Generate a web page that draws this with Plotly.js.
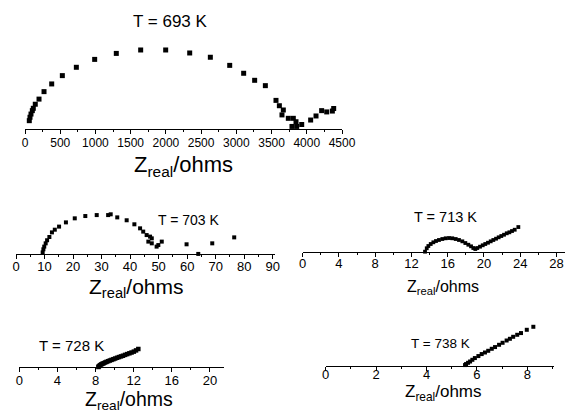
<!DOCTYPE html>
<html>
<head>
<meta charset="utf-8">
<script src="https://cdn.plot.ly/plotly-3.0.1.min.js"></script>
<style>html,body{margin:0;padding:0;background:#fff}#chart{width:565px;height:410px}</style>
</head>
<body>
<div id="chart"></div>
<script>
// ---- Data (Z_real in ohms, -Z_imag in ohms) ----
const titles = ["T = 693 K", "T = 703 K", "T = 713 K", "T = 728 K", "T = 738 K"];
const axisLabel = "Z<sub>real</sub>/ohms";

const zr693 = [61, 71, 85, 104, 118, 146, 199, 270, 379, 530, 729, 989, 1296, 1642, 1997, 2338, 2631, 2906, 3104, 3260, 3412, 3563, 3611, 3667, 3648, 3738, 3809, 3847, 3790, 3857, 3928, 4055, 4131, 4211, 4283, 4363, 4382];
const zi693 = [195, 275, 350, 430, 485, 580, 700, 875, 1055, 1250, 1445, 1630, 1770, 1850, 1850, 1780, 1680, 1490, 1305, 1140, 1015, 670, 545, 445, 330, 250, 250, 170, 60, 60, 105, 210, 305, 430, 400, 420, 480];

const zr703 = [9.35, 9.6, 9.9, 10.4, 10.9, 11.7, 12.6, 13.6, 15.1, 17.5, 20.6, 24.3, 28.3, 32.3, 33.2, 35.5, 38.8, 41.5, 43.5, 44.6, 45.8, 47.0, 47.6, 46.4, 47.6, 49.9, 49.3, 51.1, 59.8, 63.9, 68.8, 76.5];
const zi703 = [1.0, 2.6, 4.0, 5.7, 7.3, 9.0, 11.4, 12.8, 14.4, 16.6, 18.7, 19.9, 20.4, 20.4, 20.8, 19.2, 17.7, 15.6, 13.5, 11.8, 10.0, 9.2, 8.3, 6.6, 5.7, 4.8, 4.0, 6.6, 5.2, 0.2, 5.7, 8.8];

const zr713 = [13.50, 13.69, 13.87, 14.13, 14.42, 14.71, 15.04, 15.41, 15.78, 16.15, 16.51, 16.89, 17.25, 17.62, 17.95, 18.28, 18.58, 18.83, 19.05, 19.27, 19.57, 19.87, 20.15, 20.45, 20.75, 21.04, 21.34, 21.63, 21.92, 22.22, 22.52, 22.81, 23.10, 23.40, 23.80];
const zi713 = [0.12, 0.78, 1.22, 1.61, 1.94, 2.19, 2.39, 2.58, 2.72, 2.77, 2.72, 2.58, 2.39, 2.13, 1.80, 1.47, 1.16, 0.83, 0.64, 0.83, 1.09, 1.36, 1.61, 1.86, 2.13, 2.39, 2.64, 2.91, 3.16, 3.41, 3.69, 3.88, 4.13, 4.38, 4.90];

const zr728 = [8.30, 8.35, 8.42, 8.50, 8.60, 8.72, 8.85, 9.00, 9.15, 9.32, 9.50, 9.68, 9.87, 10.06, 10.26, 10.46, 10.67, 10.88, 11.10, 11.32, 11.55, 11.78, 12.02, 12.25, 12.49];
const zi728 = [0.06, 0.17, 0.30, 0.42, 0.55, 0.67, 0.78, 0.91, 1.03, 1.16, 1.29, 1.41, 1.54, 1.67, 1.81, 1.94, 2.07, 2.20, 2.36, 2.51, 2.66, 2.81, 2.98, 3.21, 3.48];

const zr738 = [5.53, 5.57, 5.65, 5.73, 5.82, 5.92, 6.06, 6.19, 6.32, 6.45, 6.59, 6.72, 6.88, 7.02, 7.18, 7.31, 7.44, 7.60, 7.75, 7.98, 8.24];
const zi738 = [0.03, 0.10, 0.19, 0.28, 0.40, 0.52, 0.66, 0.80, 0.91, 1.03, 1.17, 1.29, 1.45, 1.59, 1.75, 1.87, 2.01, 2.15, 2.27, 2.50, 2.71];

// ---- Layout helpers ----
const W = 565, H = 410;
const FONT = "Liberation Sans, Arial, Helvetica, sans-serif";
const px = v => v / W;
const py = v => 1 - v / H;

function xaxis(x0, x1, range, dtick, mdtick, anchor, fs, standoff) {
  return {
    domain: [px(x0), px(x1)], range: range, anchor: anchor,
    showline: true, linecolor: "#000", linewidth: 1,
    showgrid: false, zeroline: false,
    ticks: "outside", ticklen: 4, tickwidth: 1, tickcolor: "#000",
    tick0: 0, dtick: dtick, ticklabelstandoff: standoff,
    minor: {dtick: mdtick, ticks: "outside", ticklen: 2, tickwidth: 1, tickcolor: "#000", showgrid: false},
    tickfont: {family: FONT, size: fs, color: "#000"},
    fixedrange: true
  };
}
function yaxis(yAxisPx, yTopPx, top, anchor) {
  return {domain: [py(yAxisPx), py(yTopPx)], range: [0, top], anchor: anchor, visible: false, fixedrange: true};
}
function trace(x, y, xa, ya, size) {
  return {x: x, y: y, xaxis: xa, yaxis: ya, type: "scatter", mode: "markers",
    marker: {symbol: "square", size: size, color: "#000", line: {width: 0}},
    cliponaxis: false, hoverinfo: "skip"};
}
function ann(text, x, y, fs) {
  return {text: text, x: px(x), y: py(y), xref: "paper", yref: "paper",
    xanchor: "center", yanchor: "middle", showarrow: false,
    font: {family: FONT, size: fs, color: "#000"}};
}

const data = [
  trace(zr693, zi693, "x", "y", 5),
  trace(zr703, zi703, "x2", "y2", 4),
  trace(zr713, zi713, "x3", "y3", 3.8),
  trace(zr728, zi728, "x4", "y4", 4.5),
  trace(zr738, zi738, "x5", "y5", 4)
];

const layout = {
  width: W, height: H, autosize: false,
  margin: {l: 0, r: 0, t: 0, b: 0, pad: 0},
  paper_bgcolor: "#fff", plot_bgcolor: "rgba(0,0,0,0)",
  showlegend: false,
  xaxis: xaxis(25, 342, [0, 4500], 500, 250, "y", 12, -1),
  yaxis: yaxis(129, 40, 2084, "x"),
  xaxis2: xaxis(16, 275, [0, 90.8], 10, 5, "y2", 13, -4),
  yaxis2: yaxis(254.3, 205, 25.64, "x2"),
  xaxis3: xaxis(302.7, 565, [0, 28.95], 4, 2, "y3", 13, -5),
  yaxis3: yaxis(252.3, 205, 9.18, "x3"),
  xaxis4: xaxis(19.3, 224, [0, 21.48], 4, 2, "y4", 13, -3),
  yaxis4: yaxis(367.3, 330, 7.09, "x4"),
  xaxis5: xaxis(325.7, 554, [0, 9.06], 2, 1, "y5", 13, -7),
  yaxis5: yaxis(365.5, 315, 3.535, "x5"),
  annotations: [
    ann(titles[0], 170, 21.7, 17),
    ann(axisLabel, 183, 166, 22),
    ann(titles[1], 189, 220, 14),
    ann(axisLabel, 136, 288, 21),
    ann(titles[2], 445, 216.7, 14.5),
    ann(axisLabel, 443, 287, 16),
    ann(titles[3], 71, 345.5, 15),
    ann(axisLabel, 129, 400, 19.5),
    ann(titles[4], 441, 343, 13.5),
    ann(axisLabel, 443, 393, 17)
  ]
};

Plotly.newPlot("chart", data, layout, {staticPlot: true, displayModeBar: false});
</script>
</body>
</html>
